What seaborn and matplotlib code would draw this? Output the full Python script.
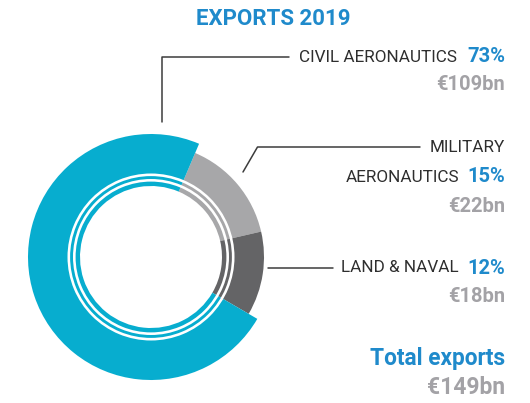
import matplotlib
matplotlib.use("Agg")
import matplotlib.pyplot as plt
from matplotlib.patches import Wedge
import seaborn as sns

# data
title = "EXPORTS 2019"
segments = ["MILITARY\nAERONAUTICS", "LAND & NAVAL", "CIVIL AERONAUTICS"]
shares = [15, 12, 73]          # %
amounts_bn = [22, 18, 109]     # € bn
total_bn = 149

colors = ["#A7A7A9", "#646466", "#07ADCF"]
blue = "#1F8ACB"
grey_txt = "#A3A2A6"
dark_txt = "#2E2E2E"
line_c = "#3C3C3C"

sns.set_theme(style="white")
plt.rcParams['font.family'] = ['Roboto', 'DejaVu Sans']

W, H = 530, 403
fig = plt.figure(figsize=(W / 100, H / 100), dpi=100)
ax = fig.add_axes([0, 0, 1, 1])

# donut (pixel coordinates, y axis flipped later -> visual clockwise)
cx, cy = 151, 257
r_in = 71
wedges, _ = ax.pie(shares, colors=colors, startangle=-67, counterclock=True,
                   center=(cx, cy), radius=123,
                   wedgeprops=dict(width=123 - r_in, linewidth=0))
for w in wedges[:2]:
    w.set_radius(113)
    w.set_width(113 - r_in)

# thin white rings
for r_out, width in [(78, 2.6), (83.5, 2.6)]:
    ax.add_patch(Wedge((cx, cy), r_out, 0, 360, width=width,
                       facecolor="white", edgecolor="none", zorder=5))

ax.set_xlim(0, W)
ax.set_ylim(H, 0)
ax.set_aspect("equal")
ax.axis("off")

# leader lines
lw = 1.1
ax.plot([162, 162, 289], [122, 57, 57], color=line_c, lw=lw)
ax.plot([243, 257.5, 420], [172, 147, 147], color=line_c, lw=lw)
ax.plot([268, 333], [268, 268], color=line_c, lw=lw)

lab_fs, num_fs = 12.3, 14.5
x_r = 505
# title
ax.text(273, 19, title, color=blue, fontsize=16, fontweight="bold",
        ha="center", va="center")

# civil
ax.text(457, 57, segments[2], color=dark_txt, fontsize=lab_fs,
        ha="right", va="center")
ax.text(x_r, 57, f"{shares[2]}%", color=blue, fontsize=num_fs,
        fontweight="bold", ha="right", va="center")
ax.text(x_r, 85, f"€{amounts_bn[2]}bn", color=grey_txt, fontsize=num_fs,
        fontweight="bold", ha="right", va="center")

# military
mil1, mil2 = segments[0].split("\n")
ax.text(x_r, 147, mil1, color=dark_txt, fontsize=lab_fs,
        ha="right", va="center")
ax.text(459, 177, mil2, color=dark_txt, fontsize=lab_fs,
        ha="right", va="center")
ax.text(x_r, 177, f"{shares[0]}%", color=blue, fontsize=num_fs,
        fontweight="bold", ha="right", va="center")
ax.text(x_r, 206, f"€{amounts_bn[0]}bn", color=grey_txt, fontsize=num_fs,
        fontweight="bold", ha="right", va="center")

# land & naval
ax.text(459, 268, segments[1], color=dark_txt, fontsize=lab_fs,
        ha="right", va="center")
ax.text(x_r, 268, f"{shares[1]}%", color=blue, fontsize=num_fs,
        fontweight="bold", ha="right", va="center")
ax.text(x_r, 296, f"€{amounts_bn[1]}bn", color=grey_txt, fontsize=num_fs,
        fontweight="bold", ha="right", va="center")

# total
ax.text(x_r, 358, "Total exports", color=blue, fontsize=16.3,
        fontweight="bold", ha="right", va="center")
ax.text(x_r, 388, f"€{total_bn}bn", color=grey_txt, fontsize=16.5,
        fontweight="bold", ha="right", va="center")

fig.savefig("out.png", dpi=100)
